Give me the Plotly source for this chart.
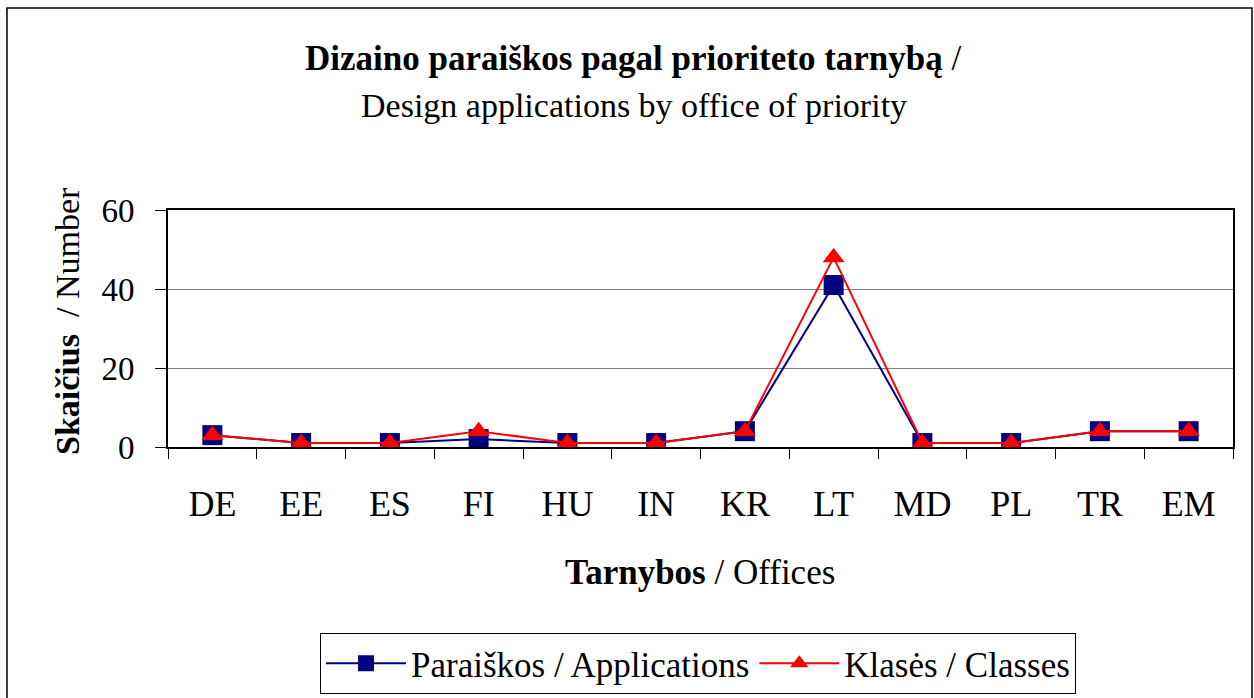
import plotly.graph_objects as go

categories = ["DE", "EE", "ES", "FI", "HU", "IN", "KR", "LT", "MD", "PL", "TR", "EM"]
applications = [3, 1, 1, 2, 1, 1, 4, 41, 1, 1, 4, 4]
classes = [3, 1, 1, 4, 1, 1, 4, 48, 1, 1, 4, 4]
y_ticks = [0, 20, 40, 60]

W, H = 1254, 698
L, R, T, B = 168, 1233, 210, 447
FONT = "Liberation Serif, Times New Roman, serif"

def px_x(px):
    return (px - L) / (R - L)

def px_y(py):
    return (B - py) / (B - T)

fig = go.Figure()
fig.add_trace(go.Scatter(
    x=categories, y=applications, mode="lines+markers",
    name="Paraiškos / Applications",
    line=dict(color="#000080", width=2),
    marker=dict(symbol="square", size=20, color="#000080"),
))
fig.add_trace(go.Scatter(
    x=categories, y=classes, mode="lines+markers",
    name="Klasės / Classes",
    line=dict(color="#FF0000", width=2),
    marker=dict(symbol="triangle-up", size=19, color="#FF0000"),
))

fig.update_layout(
    width=W, height=H,
    margin=dict(l=L, r=W - R, t=T, b=H - B, autoexpand=False),
    paper_bgcolor="white", plot_bgcolor="white",
    font=dict(family=FONT, color="black", size=30),
    showlegend=True,
    legend=dict(
        orientation="h", x=px_x(320), y=px_y(633), xanchor="left", yanchor="top",
        bordercolor="black", borderwidth=1, bgcolor="white",
        font=dict(family=FONT, size=35, color="black"),
        itemwidth=80,
    ),
    xaxis=dict(
        type="category", range=[-0.5, 11.5], tickson="boundaries",
        ticks="outside", ticklen=10, tickcolor="black", tickwidth=1,
        showline=True, linecolor="black", linewidth=2, mirror=True,
        showgrid=False, tickfont=dict(family=FONT, size=36, color="black"),
        ticklabelstandoff=24, fixedrange=True,
    ),
    yaxis=dict(
        range=[0, 60], tickvals=y_ticks, ticks="outside", ticklen=11,
        tickcolor="black", tickwidth=1,
        showline=True, linecolor="black", linewidth=2, mirror=True,
        showgrid=True, gridcolor="#808080", gridwidth=1, zeroline=False,
        tickfont=dict(family=FONT, size=33, color="black"),
        ticklabelstandoff=14, fixedrange=True,
    ),
    shapes=[dict(
        type="rect", xref="paper", yref="paper",
        x0=px_x(7), x1=px_x(1252), y0=px_y(720), y1=px_y(8),
        line=dict(color="black", width=1.5), fillcolor="rgba(0,0,0,0)", layer="below",
    )],
    annotations=[
        dict(text="<b>Dizaino paraiškos pagal prioriteto tarnybą</b> /", xref="paper", yref="paper",
             x=px_x(633), y=px_y(58), xanchor="center", yanchor="middle", showarrow=False,
             font=dict(family=FONT, size=35, color="black")),
        dict(text="Design applications by office of priority", xref="paper", yref="paper",
             x=px_x(634), y=px_y(105), xanchor="center", yanchor="middle", showarrow=False,
             font=dict(family=FONT, size=34, color="black")),
        dict(text="<b>Tarnybos</b> / Offices", xref="paper", yref="paper",
             x=px_x(700), y=px_y(572), xanchor="center", yanchor="middle", showarrow=False,
             font=dict(family=FONT, size=35, color="black")),
        dict(text="<b>Skaičius</b>  / Number", xref="paper", yref="paper", textangle=-90,
             x=px_x(67), y=px_y(321), xanchor="center", yanchor="middle", showarrow=False,
             font=dict(family=FONT, size=34, color="black")),
    ],
)

fig.write_html("out.html", config={"displayModeBar": False},
               post_script="document.body.style.margin='0px';document.body.style.overflow='hidden';")
